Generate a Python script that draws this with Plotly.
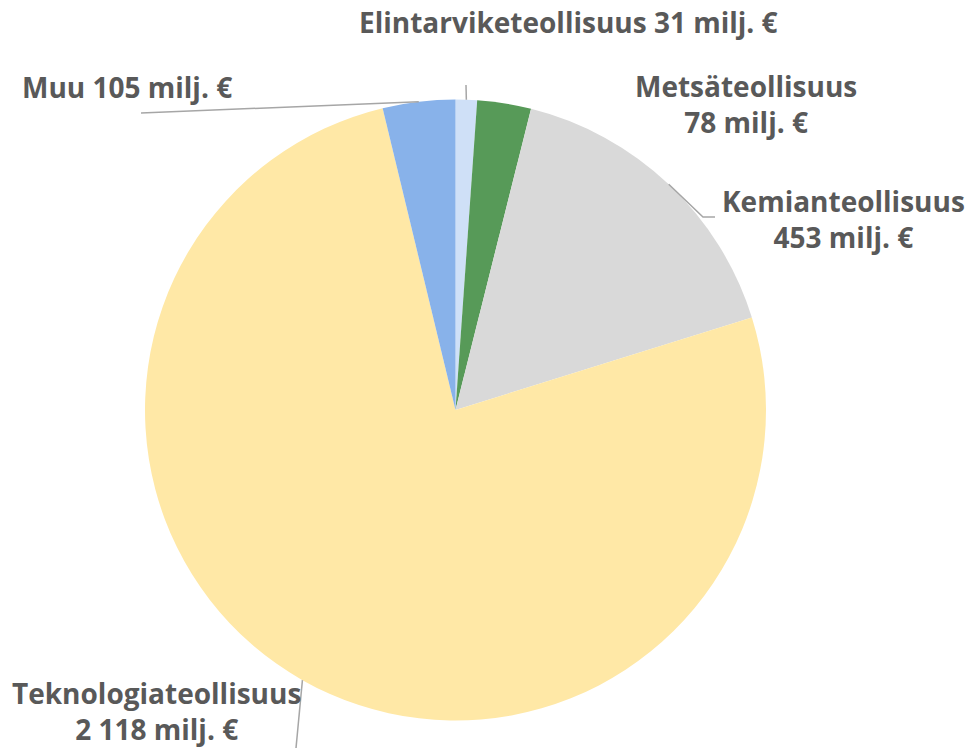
import math
import plotly.graph_objects as go

categories = ["Elintarviketeollisuus", "Metsäteollisuus", "Kemianteollisuus", "Teknologiateollisuus", "Muu"]
values = [31, 78, 453, 2118, 105]
value_labels = ["31 milj. €", "78 milj. €", "453 milj. €", "2 118 milj. €", "105 milj. €"]
colors = ["#cfe0f7", "#579a58", "#d9d9d9", "#ffe8a6", "#88b2ea"]

W, H = 971, 748
# pie box in pixels
PX0, PX1, PY0, PY1 = 145, 766, 99, 721
cx, cy = (PX0 + PX1) / 2, (PY0 + PY1) / 2
R = (PX1 - PX0) / 2

def px(x):
    return x / W

def py(y):
    return 1 - y / H

fig = go.Figure(go.Pie(
    labels=categories,
    values=values,
    marker=dict(colors=colors, line=dict(width=0)),
    sort=False,
    direction="clockwise",
    rotation=0,
    textinfo="none",
    hoverinfo="label+value",
    domain=dict(x=[px(PX0), px(PX1)], y=[py(PY1), py(PY0)]),
    showlegend=False,
))

# slice midpoints on the rim, from the data
total = sum(values)
mids = []
cum = 0
for v in values:
    a = (cum + v / 2) / total * 2 * math.pi
    mids.append((cx + R * math.sin(a), cy - R * math.cos(a)))
    cum += v

font = dict(family="'Open Sans', 'Noto Sans', sans-serif", size=28, color="#595959")

label_specs = [
    dict(pos=(568, 22), text=f"<b>{categories[0]} {value_labels[0]}</b>", path=[(466, 85)]),
    dict(pos=(746, 104), text=f"<b>{categories[1]}<br>{value_labels[1]}</b>", path=None),
    dict(pos=(843, 219), text=f"<b>{categories[2]}<br>{value_labels[2]}</b>", path=[(703, 217), (715, 217)]),
    dict(pos=(156, 711), text=f"<b>{categories[3]}<br>{value_labels[3]}</b>", path=[(296, 748)]),
    dict(pos=(127, 87), text=f"<b>{categories[4]} {value_labels[4]}</b>", path=[(141, 113)]),
]

annotations = []
shapes = []
for i, spec in enumerate(label_specs):
    x, y = spec["pos"]
    annotations.append(dict(
        x=px(x), y=py(y), xref="paper", yref="paper",
        text=spec["text"], showarrow=False, font=font,
        xanchor="center", yanchor="middle", align="center",
    ))
    if spec["path"]:
        pts = [mids[i]] + spec["path"]
        d = "M " + " L ".join(f"{px(a)},{py(b)}" for a, b in pts)
        shapes.append(dict(type="path", path=d, xref="paper", yref="paper",
                           line=dict(color="#a6a6a6", width=1.5)))

fig.update_layout(
    width=W, height=H,
    margin=dict(l=0, r=0, t=0, b=0),
    paper_bgcolor="white",
    plot_bgcolor="white",
    annotations=annotations,
    shapes=shapes,
)

fig.write_html("out.html", config={"displayModeBar": False},
               post_script="document.body.style.margin='0';")
